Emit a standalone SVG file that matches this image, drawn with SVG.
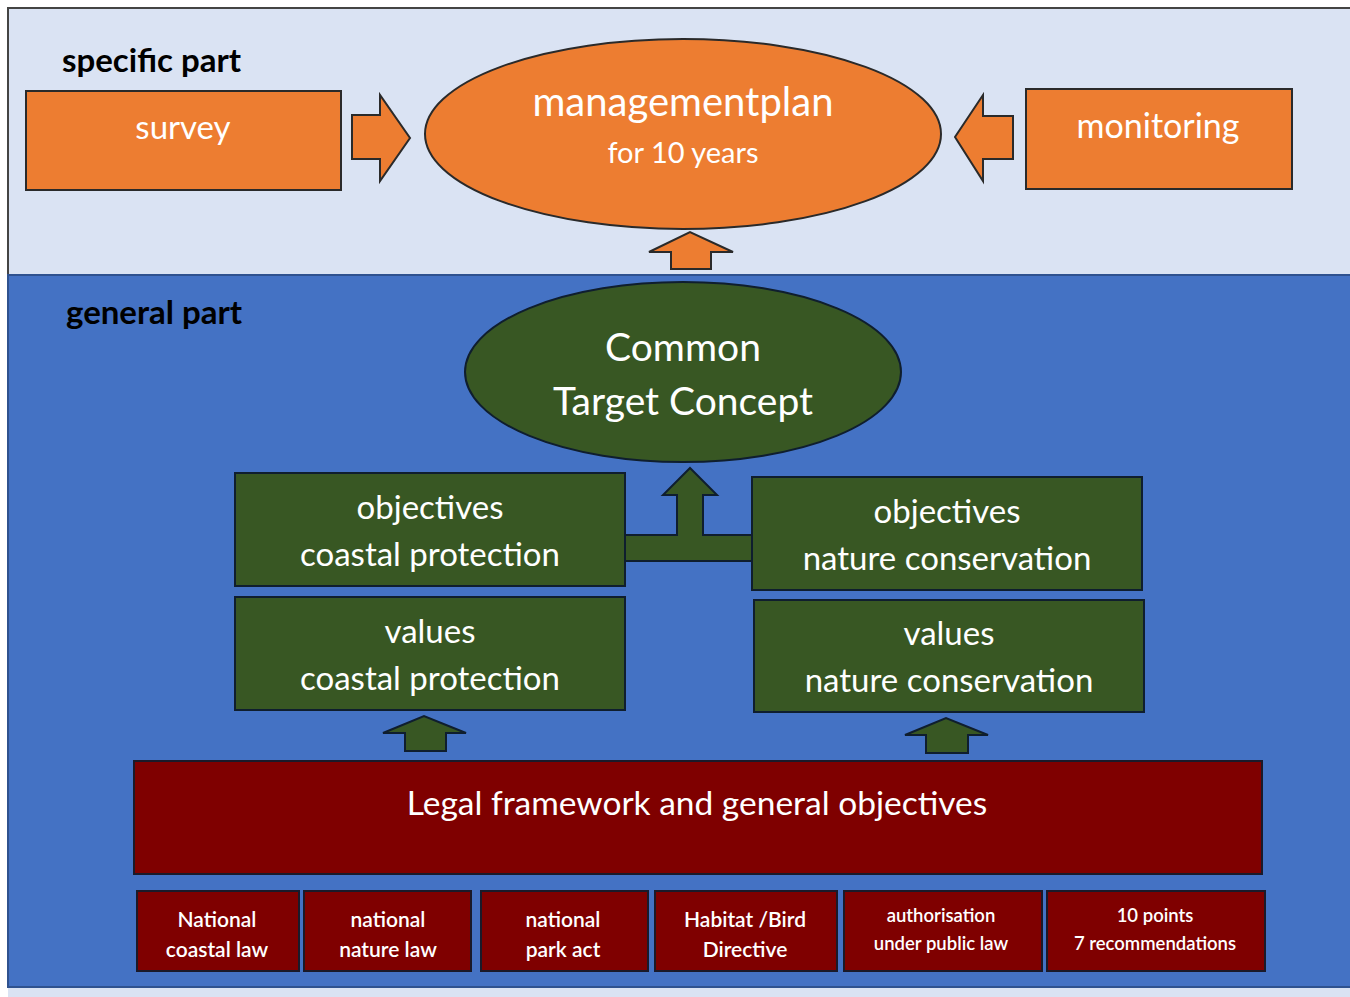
<svg xmlns="http://www.w3.org/2000/svg" width="1350" height="997" viewBox="0 0 1350 997">
<style>
.t{font-family:Lato,"Liberation Sans",sans-serif;fill:#ffffff;text-anchor:middle}
.s{font-weight:600}
.h{font-family:Lato,"Liberation Sans",sans-serif;font-weight:bold;fill:#000000;font-size:33px}
.o{fill:#ed7d31;stroke:#2a2a2a;stroke-width:2}
.g{fill:#385723;stroke:#0f1e2e;stroke-width:2}
.r{fill:#7f0000;stroke:#1a1a2a;stroke-width:2}
</style>
<rect x="0" y="0" width="1350" height="997" fill="#ffffff"/>
<rect x="8" y="8" width="1350" height="267" fill="#dae3f3" stroke="#444" stroke-width="2"/>
<rect x="8" y="275" width="1350" height="712" fill="#4472c4" stroke="#2f528f" stroke-width="2"/>
<rect x="8" y="988" width="1350" height="12" fill="#dae3f3"/>
<text class="h" x="62" y="72">specific part</text>
<text class="h" x="66" y="324">general part</text>

<g id="connectors">
<polygon class="o" points="352,115 380,115 380,95 410,138 380,181 380,159 352,159"/>
<polygon class="o" points="1013,116 983,116 983,95 955,137 983,181 983,159 1013,159"/>
<polygon class="o" points="671,269 671,252 649,252 690,232 733,252 711,252 711,269"/>
<polygon class="g" points="625,535 677,535 677,495 663,495 690,468 717,495 703,495 703,535 752,535 752,561 625,561"/>
<polygon class="g" points="405,751 405,733 383,733 424,716 466,733 446,733 446,751"/>
<polygon class="g" points="926,753 926,735 905,735 946,718 988,735 968,735 968,753"/>
</g>

<g id="survey"><rect class="o" x="26" y="91" width="315" height="99"/><text class="t" x="183" y="139" font-size="33">survey</text></g>
<g id="managementplan"><ellipse class="o" cx="683" cy="134" rx="258" ry="95"/><text class="t" x="683" y="116" font-size="40">managementplan</text><text class="t" x="683" y="163" font-size="29">for 10 years</text></g>
<g id="monitoring"><rect class="o" x="1026" y="89" width="266" height="100"/><text class="t" x="1158" y="138" font-size="34">monitoring</text></g>

<g id="common-target"><ellipse class="g" cx="683" cy="372" rx="218" ry="90"/><text class="t" x="683" y="361" font-size="39">Common</text><text class="t" x="683" y="415" font-size="39">Target Concept</text></g>
<g id="obj-coastal"><rect class="g" x="235" y="473" width="390" height="113"/><text class="t" x="430" y="519" font-size="33">objectives</text><text class="t" x="430" y="566" font-size="33">coastal protection</text></g>
<g id="obj-nature"><rect class="g" x="752" y="477" width="390" height="113"/><text class="t" x="947" y="523" font-size="33">objectives</text><text class="t" x="947" y="570" font-size="33">nature conservation</text></g>
<g id="val-coastal"><rect class="g" x="235" y="597" width="390" height="113"/><text class="t" x="430" y="643" font-size="33">values</text><text class="t" x="430" y="690" font-size="33">coastal protection</text></g>
<g id="val-nature"><rect class="g" x="754" y="600" width="390" height="112"/><text class="t" x="949" y="645" font-size="33">values</text><text class="t" x="949" y="692" font-size="33">nature conservation</text></g>

<g id="legal"><rect class="r" x="134" y="761" width="1128" height="113"/><text class="t" x="697" y="815" font-size="33.5">Legal framework and general objectives</text></g>
<g id="b1"><rect class="r" x="137" y="891" width="162" height="80"/><text class="t s" x="217" y="927" font-size="21">National</text><text class="t s" x="217" y="957" font-size="21">coastal law</text></g>
<g id="b2"><rect class="r" x="304" y="891" width="167" height="80"/><text class="t s" x="388" y="927" font-size="21">national</text><text class="t s" x="388" y="957" font-size="21">nature law</text></g>
<g id="b3"><rect class="r" x="481" y="891" width="167" height="80"/><text class="t s" x="563" y="927" font-size="21">national</text><text class="t s" x="563" y="957" font-size="21">park act</text></g>
<g id="b4"><rect class="r" x="655" y="891" width="182" height="80"/><text class="t s" x="745" y="927" font-size="21">Habitat /Bird</text><text class="t s" x="745" y="957" font-size="21">Directive</text></g>
<g id="b5"><rect class="r" x="844" y="891" width="198" height="80"/><text class="t s" x="941" y="922" font-size="18.5">authorisation</text><text class="t s" x="941" y="950" font-size="18.5">under public law</text></g>
<g id="b6"><rect class="r" x="1047" y="891" width="218" height="80"/><text class="t s" x="1155" y="922" font-size="18.5">10 points</text><text class="t s" x="1155" y="950" font-size="18.5">7 recommendations</text></g>
</svg>
